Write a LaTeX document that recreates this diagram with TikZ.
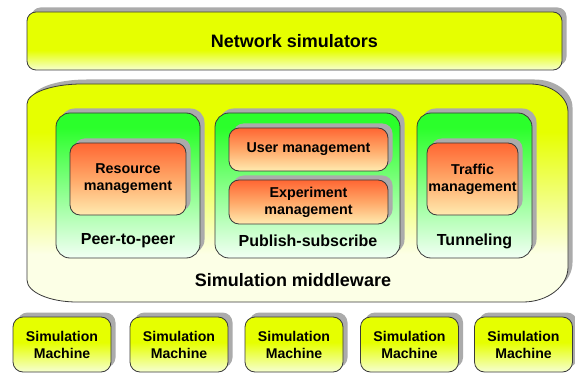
\documentclass[tikz,border=0pt]{standalone}
\usepackage{fontspec}
\setmainfont{Liberation Sans}

% palette
\definecolor{edgegray}{HTML}{3A3A3A}
\definecolor{shadowgray}{HTML}{ABABAB}
\definecolor{limeTop}{HTML}{E6FF00}
\definecolor{limePale}{HTML}{F6FFD2}
\definecolor{limeWhite}{HTML}{FCFFE6}
\definecolor{greenTop}{HTML}{2BFF2B}
\definecolor{greenPale}{HTML}{F2FFF4}
\definecolor{orangeTop}{HTML}{FF6633}
\definecolor{orangeMid}{HTML}{FFA868}
\definecolor{orangePale}{HTML}{FFEBB0}

% vertical fades (the shaded path spans 25bp..75bp)
\pgfdeclareverticalshading{barfade}{100bp}{color(0bp)=(limePale); color(25bp)=(limePale); color(42bp)=(limeTop); color(75bp)=(limeTop); color(100bp)=(limeTop)}
\pgfdeclareverticalshading{middlefade}{100bp}{color(0bp)=(limeWhite); color(25bp)=(limeWhite); color(36bp)=(limeWhite); color(64bp)=(limeTop); color(75bp)=(limeTop); color(100bp)=(limeTop)}
\pgfdeclareverticalshading{greenfade}{100bp}{color(0bp)=(greenPale); color(25bp)=(greenPale); color(70bp)=(greenTop); color(75bp)=(greenTop); color(100bp)=(greenTop)}
\pgfdeclareverticalshading{orangefade}{100bp}{color(0bp)=(orangePale); color(25bp)=(orangePale); color(50bp)=(orangeMid); color(75bp)=(orangeTop); color(100bp)=(orangeTop)}
\pgfdeclareverticalshading{machinefade}{100bp}{color(0bp)=(limePale); color(25bp)=(limePale); color(52bp)=(limeTop); color(75bp)=(limeTop); color(100bp)=(limeTop)}

% outline of the middleware layer, with unequal elliptic corners
\newcommand{\middlewareoutline}{%
  (27,104) .. controls (27,93) and (51.6,84) .. (82,84)
  -- (530,84) .. controls (551,84) and (568,96.5) .. (568,112)
  -- (568,267) .. controls (568,286.3) and (547.8,302) .. (523,302)
  -- (77,302) .. controls (49.4,302) and (27,292.1) .. (27,280)
  -- cycle}

\begin{document}
\begin{tikzpicture}[x=1pt,y=-1pt,
  % grey copy of the outline, set up and to the right
  raised/.style={preaction={fill=shadowgray, transform canvas={xshift=4.5pt, yshift=4.5pt}}},
  panel/.style={draw=edgegray, line width=0.8pt, inner sep=0pt, shade, raised},
  topbar/.style={panel, shading=barfade, rounded corners=9pt,
    font=\fontsize{18}{20}\selectfont\bfseries},
  groupbox/.style={panel, shading=greenfade, rounded corners=14pt},
  service/.style={panel, shading=orangefade, rounded corners=10pt, align=center,
    font=\fontsize{14.3}{17}\selectfont\bfseries},
  machine/.style={panel, shading=machinefade, rounded corners=10pt, align=center,
    minimum width=98pt, minimum height=55pt,
    font=\fontsize{14.1}{17}\selectfont\bfseries},
  grouplabel/.style={inner sep=0pt, font=\fontsize{16}{18}\selectfont\bfseries},
  biglabel/.style={inner sep=0pt, font=\fontsize{18}{20}\selectfont\bfseries}]
\useasboundingbox (0,0) rectangle (575,374);

% network simulators layer
\node[topbar, minimum width=535pt, minimum height=58pt] (netsim) at (294.5,41) {Network simulators};

% middleware layer
\draw[edgegray, line width=0.8pt, raised, shading=middlefade] \middlewareoutline;
\node[biglabel] (middleware) at (293,280) {Simulation middleware};

% communication groups
\node[groupbox, minimum width=144pt, minimum height=145pt] (p2p) at (128,185.5) {};
\node[groupbox, minimum width=185pt, minimum height=145pt] (pubsub) at (307.5,185.5) {};
\node[groupbox, minimum width=115pt, minimum height=145pt] (tunnel) at (474.5,185.5) {};
\node[grouplabel] (p2plabel) at (128,241) {Peer-to-peer};
\node[grouplabel] (pubsublabel) at (308,241) {Publish-subscribe};
\node[grouplabel] (tunnellabel) at (474.5,241) {Tunneling};

% services
\node[service, minimum width=116pt, minimum height=72pt] (resmgmt) at (128,179) {Resource\\management};
\node[service, minimum width=159pt, minimum height=43pt] (usermgmt) at (308.5,149.5) {User management};
\node[service, minimum width=159pt, minimum height=44pt] (expmgmt) at (308.5,202) {Experiment\\management};
\node[service, minimum width=91pt, minimum height=72pt] (trafmgmt) at (472.5,179) {Traffic\\management};

% simulation machines
\foreach \i/\x in {1/62,2/179,3/294,4/409.5,5/523.5}
  \node[machine] (machine\i) at (\x,344.5) {Simulation\\Machine};
\end{tikzpicture}
\end{document}
